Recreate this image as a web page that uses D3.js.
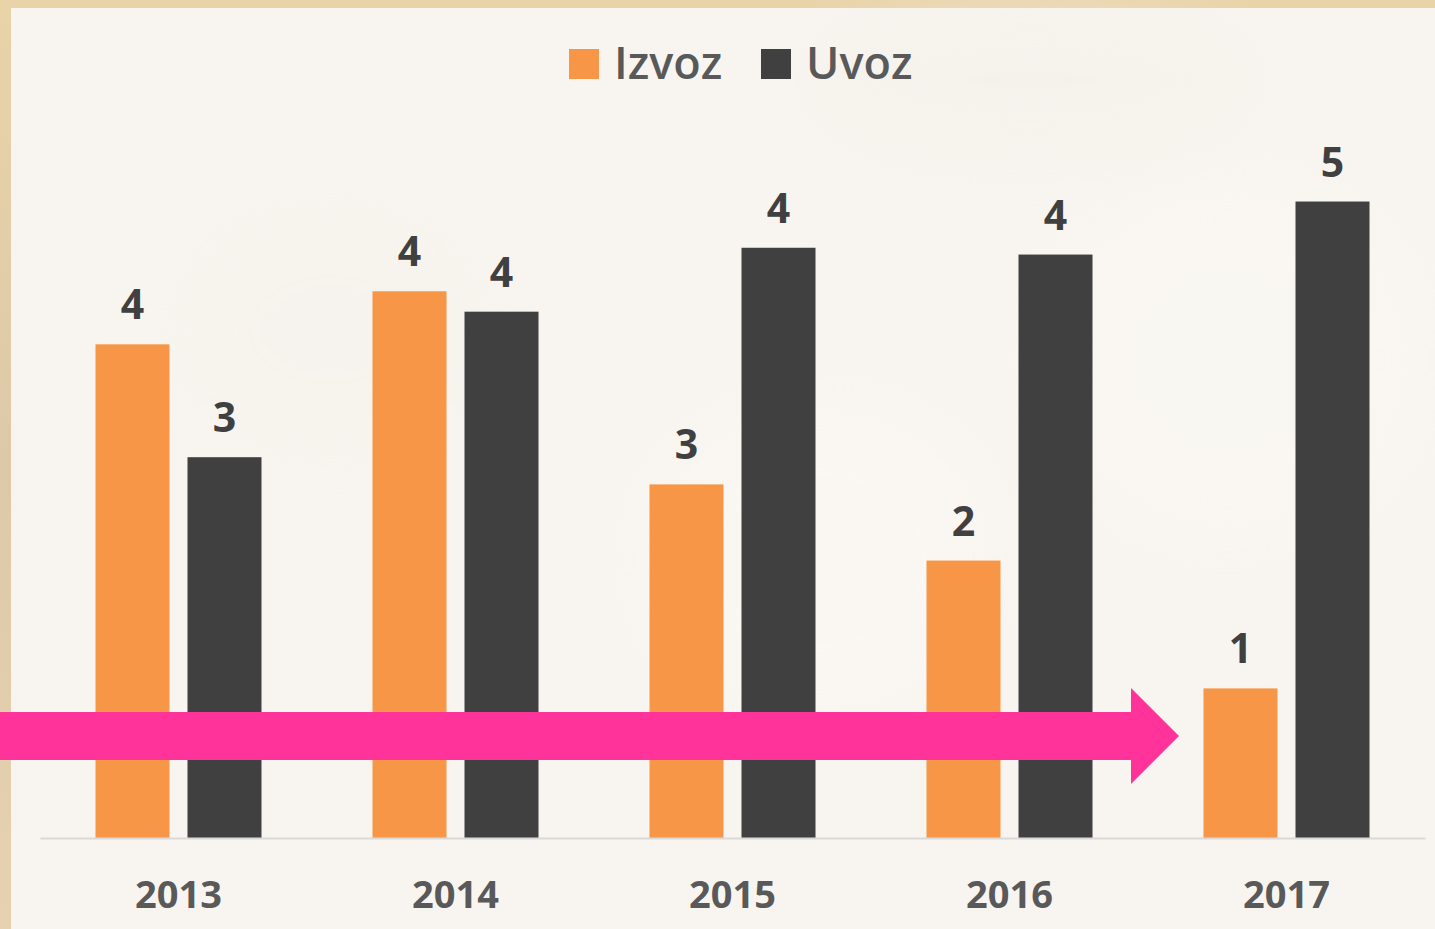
<!DOCTYPE html>
<html>
<head>
<meta charset="utf-8">
<script src="https://cdn.jsdelivr.net/npm/d3@7"></script>
<style>
  html, body { margin: 0; padding: 0; background: #e4cfa6; }
  svg { display: block; }
</style>
</head>
<body>
<svg id="chart" width="1435" height="929"></svg>
<script>
// chart data
const years = ['2013', '2014', '2015', '2016', '2017'];
const seriesNames = ['Izvoz', 'Uvoz'];
const izvoz = [3.63, 4.02, 2.6, 2.04, 1.1];
const uvoz = [2.8, 3.87, 4.34, 4.29, 4.68];
const colors = ['#F79646', '#404040'];

const W = 1435;
const H = 929;
const svg = d3.select('#chart');

// backdrop: photo border + pale panel
const defs = svg.append('defs');
const edge = defs.append('linearGradient').attr('id', 'edge')
  .attr('x1', 0).attr('y1', 0).attr('x2', 0).attr('y2', 1);
edge.append('stop').attr('offset', '0%').attr('stop-color', '#e9d3a8');
edge.append('stop').attr('offset', '50%').attr('stop-color', '#dcc9a8');
edge.append('stop').attr('offset', '100%').attr('stop-color', '#e6d2b0');

svg.append('rect').attr('width', W).attr('height', H).attr('fill', 'url(#edge)');
svg.append('rect')
  .attr('x', 11).attr('y', 8)
  .attr('width', W - 11).attr('height', H - 8)
  .attr('fill', '#f8f5f0');

// faint blurred blobs like the chicks behind the chart
const blur = defs.append('filter').attr('id', 'blur')
  .attr('x', '-50%').attr('y', '-50%').attr('width', '200%').attr('height', '200%');
blur.append('feGaussianBlur').attr('stdDeviation', 30);
const blobs = svg.append('g').attr('filter', 'url(#blur)').attr('opacity', 0.4);
blobs.append('ellipse').attr('cx', 330).attr('cy', 330).attr('rx', 150).attr('ry', 120).attr('fill', '#f5f0e9');
blobs.append('ellipse').attr('cx', 820).attr('cy', 560).attr('rx', 170).attr('ry', 150).attr('fill', '#fdfbf8');
blobs.append('ellipse').attr('cx', 1230).attr('cy', 360).attr('rx', 180).attr('ry', 170).attr('fill', '#fcfaf6');
blobs.append('ellipse').attr('cx', 1030).attr('cy', 80).attr('rx', 220).attr('ry', 80).attr('fill', '#f3eee7');

// scales
const x0 = d3.scaleBand().domain(years).range([40, 1425]);
const x1 = d3.scaleBand().domain(seriesNames)
  .range([55.5, 221.5])
  .paddingInner(18 / 92);
const y = d3.scaleLinear().domain([0, 5]).range([838, 158]);

const rows = years.map((yr, i) => ({ year: yr, values: [izvoz[i], uvoz[i]] }));

// bars
const groups = svg.selectAll('g.year')
  .data(rows)
  .enter()
  .append('g')
  .attr('class', 'year')
  .attr('transform', (d) => `translate(${x0(d.year)},0)`);

groups.selectAll('rect')
  .data((d) => d.values.map((v, i) => ({ name: seriesNames[i], value: v, i })))
  .enter()
  .append('rect')
  .attr('x', (d) => x1(d.name))
  .attr('y', (d) => y(d.value))
  .attr('width', x1.bandwidth())
  .attr('height', (d) => y(0) - y(d.value))
  .attr('fill', (d) => colors[d.i]);

// value labels, rounded like the original
groups.selectAll('text.val')
  .data((d) => d.values.map((v, i) => ({ name: seriesNames[i], value: v })))
  .enter()
  .append('text')
  .attr('class', 'val')
  .attr('x', (d) => x1(d.name) + x1.bandwidth() / 2)
  .attr('y', (d) => y(d.value) - 25)
  .attr('text-anchor', 'middle')
  .attr('font-family', 'Open Sans, sans-serif')
  .attr('font-weight', 'bold')
  .attr('font-size', '41px')
  .attr('fill', '#404040')
  .text((d) => d3.format('.0f')(d.value));

// baseline + year labels
const xAxis = svg.append('g')
  .attr('transform', `translate(0,${y(0)})`)
  .call(d3.axisBottom(x0).tickSize(0).tickPadding(70));
xAxis.select('.domain').attr('stroke', '#d9d9d9').attr('stroke-width', 2);
xAxis.selectAll('text')
  .attr('font-family', 'Open Sans, sans-serif')
  .attr('font-weight', 'bold')
  .attr('font-size', '38px')
  .attr('fill', '#595959')
  .attr('dy', 0);

// legend
const legendPos = [569, 761];
const legend = svg.selectAll('g.legend')
  .data(seriesNames)
  .enter()
  .append('g')
  .attr('class', 'legend')
  .attr('transform', (_, i) => `translate(${legendPos[i]},49)`);
legend.append('rect')
  .attr('width', 30).attr('height', 30)
  .attr('fill', (_, i) => colors[i]);
legend.append('text')
  .attr('x', 45)
  .attr('y', 30)
  .attr('font-family', 'Open Sans, sans-serif')
  .attr('font-weight', 600)
  .attr('font-size', '45px')
  .attr('fill', '#595959')
  .text((d) => d);

// pink arrow over the bars
svg.append('path')
  .attr('d', 'M0,712 H1131 V688 L1179,736 L1131,784 V760 H0 Z')
  .attr('fill', '#FF3399');
</script>
</body>
</html>
